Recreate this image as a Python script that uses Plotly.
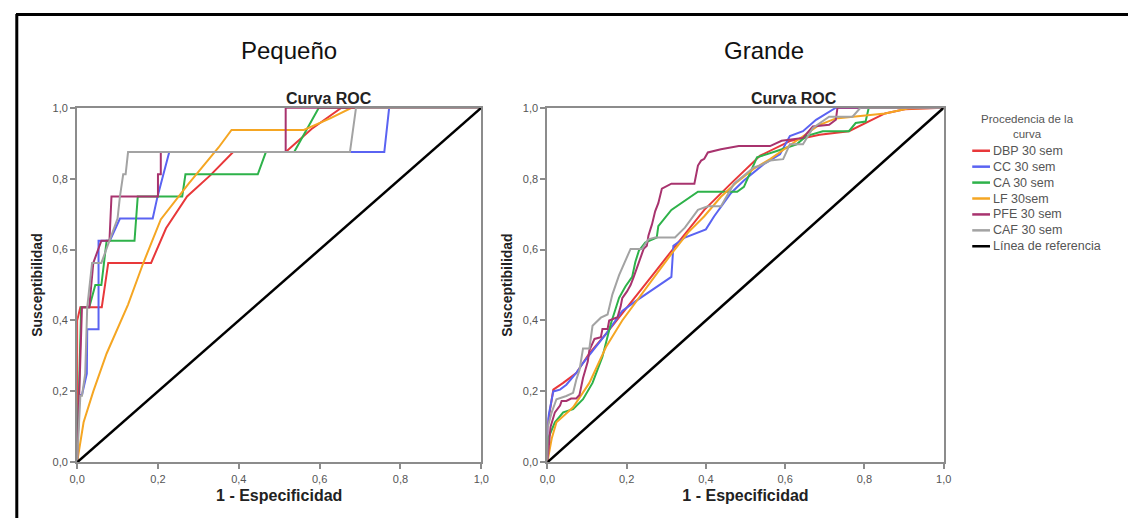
import plotly.graph_objects as go

# ---------------- data ----------------
series_names = ["DBP 30 sem", "CC 30 sem", "CA 30 sem", "LF 30sem", "PFE 30 sem", "CAF 30 sem"]
series_colors = ["#e8383a", "#5a63f2", "#2eb24a", "#f5a623", "#a8336e", "#a3a3a3"]
ref_name = "Línea de referencia"
ref_color = "#000000"
legend_title = "Procedencia de la<br>curva"

# Pequeño (small) ROC curves: 1 - especificidad (x) vs susceptibilidad (y)
small_dbp_x = [0, 0, 0.008, 0.061, 0.077, 0.183, 0.22, 0.272, 0.33, 0.386, 0.516, 0.58, 0.654, 1.0]
small_dbp_y = [0, 0.4, 0.4375, 0.4375, 0.5625, 0.5625, 0.66, 0.75, 0.81, 0.875, 0.875, 0.94, 1.0, 1.0]
small_cc_x = [0, 0.005, 0.012, 0.024, 0.025, 0.053, 0.053, 0.081, 0.106, 0.187, 0.199, 0.228, 0.76, 0.772, 1.0]
small_cc_y = [0, 0.19, 0.19, 0.25, 0.375, 0.375, 0.625, 0.625, 0.6875, 0.6875, 0.75, 0.875, 0.875, 1.0, 1.0]
small_ca_x = [0, 0.008, 0.01, 0.03, 0.045, 0.06, 0.073, 0.142, 0.15, 0.26, 0.268, 0.447, 0.467, 0.537, 0.598, 1.0]
small_ca_y = [0, 0.375, 0.4375, 0.4375, 0.5, 0.5, 0.625, 0.625, 0.75, 0.75, 0.8125, 0.8125, 0.875, 0.875, 1.0, 1.0]
small_lf_x = [0, 0.016, 0.04, 0.073, 0.126, 0.163, 0.207, 0.276, 0.35, 0.382, 0.561, 0.626, 0.679, 1.0]
small_lf_y = [0, 0.113, 0.2, 0.307, 0.445, 0.56, 0.685, 0.786, 0.888, 0.9375, 0.9375, 0.97, 1.0, 1.0]
small_pfe_x = [0, 0.005, 0.01, 0.012, 0.03, 0.04, 0.06, 0.08, 0.085, 0.2, 0.2, 0.207, 0.207, 0.516, 0.516, 1.0]
small_pfe_y = [0, 0.1875, 0.375, 0.4375, 0.4375, 0.5625, 0.625, 0.625, 0.75, 0.75, 0.8125, 0.8125, 0.875, 0.875, 1.0, 1.0]
small_caf_x = [0, 0.008, 0.012, 0.02, 0.025, 0.037, 0.05, 0.06, 0.08, 0.1, 0.106, 0.114, 0.12, 0.126, 0.675, 0.69, 1.0]
small_caf_y = [0, 0.1875, 0.1875, 0.25, 0.4375, 0.5625, 0.5625, 0.5625, 0.625, 0.6875, 0.75, 0.8125, 0.8125, 0.875, 0.875, 1.0, 1.0]

# Grande (large) ROC curves
large_dbp_x = [0, 0, 0.015, 0.04, 0.073, 0.106, 0.148, 0.214, 0.272, 0.33, 0.396, 0.463, 0.537, 0.612, 0.687, 0.761, 0.811, 0.852, 0.902, 1.0]
large_dbp_y = [0, 0.1, 0.205, 0.224, 0.252, 0.307, 0.362, 0.454, 0.537, 0.62, 0.712, 0.786, 0.865, 0.906, 0.924, 0.934, 0.961, 0.984, 0.996, 1.0]
large_cc_x = [0, 0, 0.015, 0.032, 0.048, 0.073, 0.09, 0.123, 0.148, 0.189, 0.222, 0.313, 0.318, 0.347, 0.4, 0.421, 0.463, 0.496, 0.546, 0.587, 0.612, 0.645, 0.678, 0.728, 1.0]
large_cc_y = [0, 0.113, 0.2, 0.205, 0.219, 0.252, 0.28, 0.325, 0.362, 0.427, 0.454, 0.523, 0.611, 0.634, 0.657, 0.694, 0.759, 0.795, 0.841, 0.869, 0.92, 0.934, 0.966, 1.0, 1.0]
large_ca_x = [0, 0.002, 0.019, 0.04, 0.065, 0.09, 0.114, 0.139, 0.16, 0.181, 0.197, 0.214, 0.222, 0.231, 0.247, 0.276, 0.28, 0.313, 0.38, 0.438, 0.479, 0.496, 0.529, 0.579, 0.629, 0.653, 0.695, 0.761, 0.778, 0.803, 0.811, 1.0]
large_ca_y = [0, 0.067, 0.113, 0.141, 0.15, 0.178, 0.224, 0.298, 0.39, 0.464, 0.496, 0.523, 0.565, 0.597, 0.62, 0.634, 0.666, 0.712, 0.763, 0.763, 0.763, 0.777, 0.86, 0.878, 0.897, 0.92, 0.934, 0.934, 0.957, 0.961, 1.0, 1.0]
large_lf_x = [0, 0.011, 0.023, 0.065, 0.106, 0.148, 0.189, 0.231, 0.272, 0.313, 0.355, 0.396, 0.438, 0.479, 0.521, 0.562, 0.604, 0.645, 0.687, 0.728, 0.778, 0.852, 0.91, 1.0]
large_lf_y = [0, 0.067, 0.113, 0.155, 0.224, 0.325, 0.4, 0.464, 0.523, 0.588, 0.648, 0.694, 0.749, 0.791, 0.828, 0.855, 0.888, 0.92, 0.952, 0.97, 0.975, 0.984, 0.998, 1.0]
large_pfe_x = [0, 0.008, 0.019, 0.032, 0.036, 0.048, 0.06, 0.073, 0.081, 0.085, 0.09, 0.102, 0.106, 0.119, 0.135, 0.139, 0.152, 0.156, 0.177, 0.185, 0.189, 0.201, 0.21, 0.218, 0.226, 0.235, 0.243, 0.251, 0.255, 0.26, 0.264, 0.272, 0.28, 0.289, 0.305, 0.313, 0.371, 0.38, 0.388, 0.396, 0.405, 0.438, 0.483, 0.562, 0.591, 0.645, 0.67, 0.711, 0.728, 0.732, 1.0]
large_pfe_y = [0, 0.1, 0.141, 0.16, 0.173, 0.173, 0.18, 0.18, 0.19, 0.215, 0.238, 0.284, 0.316, 0.348, 0.353, 0.376, 0.376, 0.4, 0.409, 0.44, 0.463, 0.482, 0.5, 0.523, 0.547, 0.574, 0.602, 0.611, 0.639, 0.657, 0.671, 0.708, 0.731, 0.772, 0.781, 0.786, 0.786, 0.837, 0.851, 0.856, 0.874, 0.883, 0.892, 0.892, 0.907, 0.915, 0.947, 0.952, 0.966, 1.0, 1.0]
large_caf_x = [0, 0, 0.011, 0.023, 0.048, 0.065, 0.073, 0.081, 0.09, 0.106, 0.114, 0.135, 0.152, 0.164, 0.181, 0.21, 0.239, 0.255, 0.272, 0.322, 0.347, 0.38, 0.405, 0.438, 0.471, 0.521, 0.537, 0.562, 0.595, 0.612, 0.645, 0.67, 0.711, 0.77, 0.79, 1.0]
large_caf_y = [0, 0.095, 0.141, 0.178, 0.187, 0.196, 0.233, 0.26, 0.321, 0.321, 0.385, 0.408, 0.417, 0.473, 0.528, 0.602, 0.602, 0.629, 0.634, 0.634, 0.662, 0.712, 0.722, 0.722, 0.786, 0.832, 0.837, 0.851, 0.855, 0.897, 0.897, 0.943, 0.975, 0.975, 1.0, 1.0]

ref_x = [0, 1]
ref_y = [0, 1]

tick_vals = [0, 0.2, 0.4, 0.6, 0.8, 1.0]
tick_text = ["0,0", "0,2", "0,4", "0,6", "0,8", "1,0"]

small = [(small_dbp_x, small_dbp_y), (small_cc_x, small_cc_y), (small_ca_x, small_ca_y),
         (small_lf_x, small_lf_y), (small_pfe_x, small_pfe_y), (small_caf_x, small_caf_y)]
large = [(large_dbp_x, large_dbp_y), (large_cc_x, large_cc_y), (large_ca_x, large_ca_y),
         (large_lf_x, large_lf_y), (large_pfe_x, large_pfe_y), (large_caf_x, large_caf_y)]

# page body has an 8px margin; the figure fills the rest of the window
OFF = 8
W, H = 1144 - 2 * OFF, 532 - 2 * OFF
FONT = "Liberation Sans, Arial, sans-serif"

fig = go.Figure()
for (x, y), name, col in zip(small, series_names, series_colors):
    fig.add_trace(go.Scatter(x=x, y=y, mode="lines", name=name, line=dict(color=col, width=2),
                             xaxis="x", yaxis="y", showlegend=False))
fig.add_trace(go.Scatter(x=ref_x, y=ref_y, mode="lines", name=ref_name, line=dict(color=ref_color, width=2.5),
                         xaxis="x", yaxis="y", showlegend=False))
for (x, y), name, col in zip(large, series_names, series_colors):
    fig.add_trace(go.Scatter(x=x, y=y, mode="lines", name=name, line=dict(color=col, width=2),
                             xaxis="x2", yaxis="y2", showlegend=False))
fig.add_trace(go.Scatter(x=ref_x, y=ref_y, mode="lines", name=ref_name, line=dict(color=ref_color, width=2.5),
                         xaxis="x2", yaxis="y2", showlegend=False))


def px_x(p):
    return (p - OFF) / W


def px_y(p):
    return 1 - (p - OFF) / H


axis_common = dict(range=[0, 1], showgrid=False, zeroline=False, showline=True, linecolor="#8c8c8c",
                   linewidth=2, mirror=True, ticks="outside", ticklen=5, tickcolor="#8c8c8c", tickwidth=1.5,
                   tickvals=tick_vals, ticktext=tick_text,
                   tickfont=dict(family=FONT, size=11, color="#555555"))

ydom = [px_y(467), px_y(104)]
xt = dict(text="<b>1 - Especificidad</b>", font=dict(family=FONT, size=16, color="#222222"), standoff=6)
yt = dict(text="<b>Susceptibilidad</b>", font=dict(family=FONT, size=14, color="#222222"), standoff=7)
fig.update_layout(
    width=W, height=H,
    margin=dict(l=0, r=0, t=0, b=0),
    paper_bgcolor="white", plot_bgcolor="white",
    font=dict(family=FONT),
    xaxis=dict(domain=[px_x(70), px_x(480)], anchor="y", title=xt, **axis_common),
    yaxis=dict(domain=ydom, anchor="x", title=yt, **axis_common),
    xaxis2=dict(domain=[px_x(547), px_x(949)], anchor="y2", title=xt, **axis_common),
    yaxis2=dict(domain=ydom, anchor="x2", title=yt, **axis_common),
    showlegend=False,
)

annotations = [
    dict(text="Pequeño", x=px_x(285), y=px_y(45), font=dict(family=FONT, size=24, color="#111111")),
    dict(text="Grande", x=px_x(767), y=px_y(45), font=dict(family=FONT, size=24, color="#111111")),
    dict(text="<b>Curva ROC</b>", x=px_x(325), y=px_y(95), font=dict(family=FONT, size=16, color="#222222")),
    dict(text="<b>Curva ROC</b>", x=px_x(797), y=px_y(95), font=dict(family=FONT, size=16, color="#222222")),
    dict(text=legend_title, x=px_x(1034), y=px_y(123), align="center",
         font=dict(family=FONT, size=11.5, color="#555555")),
]
for a in annotations:
    a.update(xref="paper", yref="paper", showarrow=False, xanchor="center", yanchor="middle")

# key (legend) entries built from the series names / colours
shapes = []
key_names = series_names + [ref_name]
key_colors = series_colors + [ref_color]
for i, (name, col) in enumerate(zip(key_names, key_colors)):
    yk = px_y(148 + i * 16.3)
    shapes.append(dict(type="line", xref="paper", yref="paper", x0=px_x(978), x1=px_x(996), y0=yk, y1=yk,
                       line=dict(color=col, width=2.5)))
    annotations.append(dict(text=name, x=px_x(997), y=yk, xref="paper", yref="paper", showarrow=False,
                            xanchor="left", yanchor="middle",
                            font=dict(family=FONT, size=12.5, color="#555555")))

# outer black frame: left and top edges
shapes.append(dict(type="line", xref="paper", yref="paper", x0=0.8 / W, x1=0.8 / W, y0=0, y1=1,
                   line=dict(color="#000000", width=3)))
shapes.append(dict(type="line", xref="paper", yref="paper", x0=0, x1=1, y0=1 - 0.5 / H, y1=1 - 0.5 / H,
                   line=dict(color="#000000", width=3)))

fig.update_layout(annotations=annotations, shapes=shapes)

fig.write_html("out.html")
